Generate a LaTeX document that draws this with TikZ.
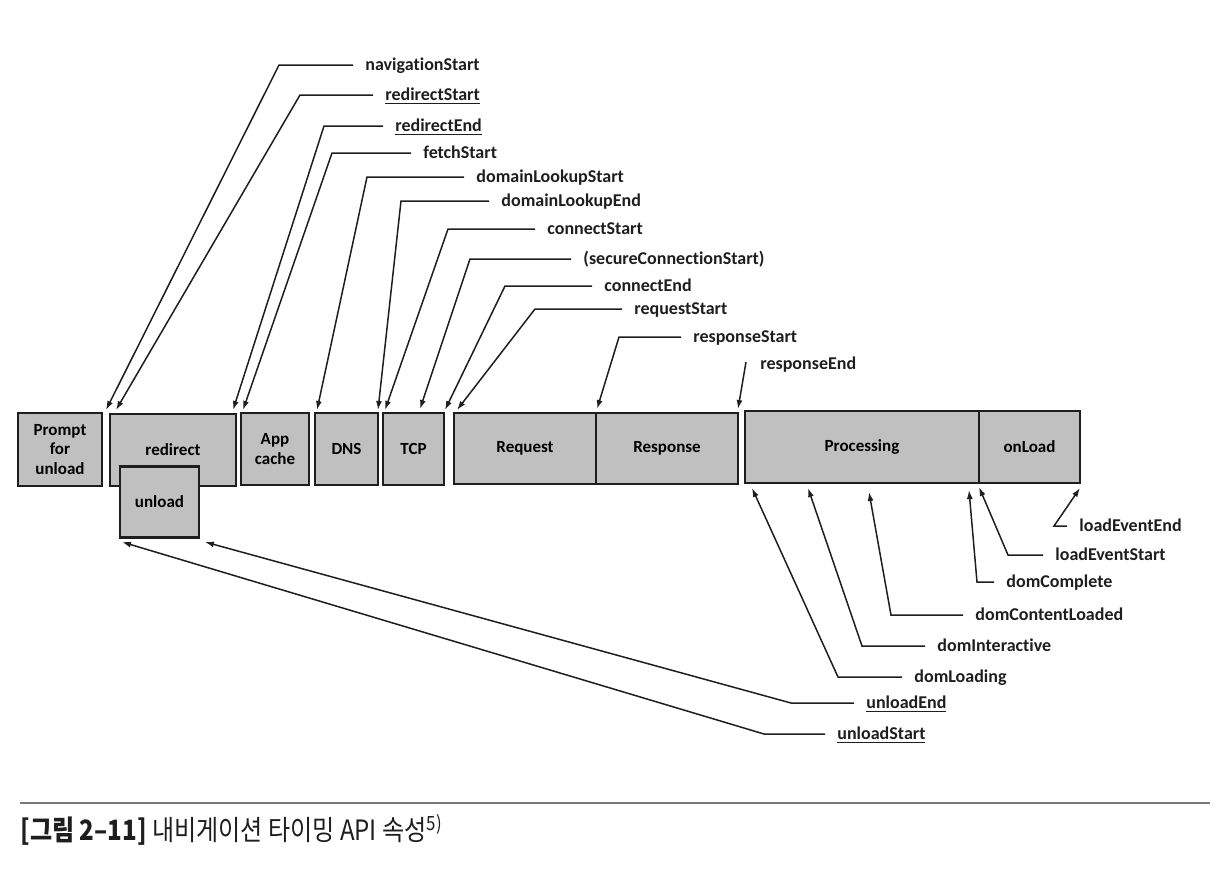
\documentclass[tikz,border=0pt]{standalone}
\usepackage{fontspec}
\setmainfont{Carlito}[Ligatures=NoCommon]
\newfontfamily\korfont[FakeStretch=0.86]{Noto Sans CJK KR}
\usetikzlibrary{arrows.meta}
\definecolor{boxgray}{RGB}{192,192,192}
\definecolor{inkgray}{RGB}{30,30,30}
\definecolor{rulegray}{RGB}{120,120,120}

\begin{document}
\begin{tikzpicture}[x=0.5pt,y=-0.5pt,
    stage/.style={draw=inkgray,line width=1.1pt,fill=boxgray,
        inner sep=0pt,outer sep=0pt,align=center,
        font=\fontsize{8.5}{9.8}\selectfont\bfseries},
    lbl/.style={anchor=west,inner sep=0pt,text=inkgray,
        text height=1.5ex,text depth=0.4ex,
        font=\fontsize{9}{10}\selectfont\bfseries},
    conn/.style={draw=inkgray,line width=0.75pt,
        -{Latex[length=4.5pt,width=3pt]}}]
\useasboundingbox (0,0) rectangle (1222,874);

% timeline stages
\node[stage,minimum width=42pt,minimum height=36.5pt] (prompt) at (60,449.5) {Prompt\\for\\unload};
\node[stage,minimum width=63pt,minimum height=36pt] (redirect) at (173,450) {redirect};
\node[stage,minimum width=39.5pt,minimum height=35.5pt] (unload) at (159.5,502) {unload};
\node[stage,minimum width=34pt,minimum height=36pt] (appcache) at (275,449) {App\\cache};
\node[stage,minimum width=31.5pt,minimum height=36pt] (dns) at (346.5,449) {DNS};
\node[stage,minimum width=30.5pt,minimum height=36pt] (tcp) at (413.5,449) {TCP};
\node[stage,minimum width=71pt,minimum height=35.5pt] (request) at (525,448.5) {Request};
\node[stage,minimum width=71pt,minimum height=35.5pt] (response) at (667,448.5) {Response};
\node[stage,minimum width=117pt,minimum height=36pt] (processing) at (862,447) {Processing};
\node[stage,minimum width=50.5pt,minimum height=36pt] (onload) at (1029.5,447) {onLoad};

% arrow tips on the stages
\coordinate (tNav) at (106,410);
\coordinate (tRedirStart) at (116,410);
\coordinate (tRedirEnd) at (233,410);
\coordinate (tFetch) at (243,410);
\coordinate (tDnsStart) at (317,410);
\coordinate (tDnsEnd) at (378,410);
\coordinate (tConnStart) at (385,410);
\coordinate (tSecure) at (420,409);
\coordinate (tConnEnd) at (445,410);
\coordinate (tReqStart) at (457,410);
\coordinate (tRespStart) at (597,409);
\coordinate (tRespEnd) at (738,409);
\coordinate (tDomLoading) at (752,488);
\coordinate (tDomInter) at (808,488);
\coordinate (tDomContent) at (869,492);
\coordinate (tDomComplete) at (969,490);
\coordinate (tLoadStart) at (979,487);
\coordinate (tLoadEnd) at (1080,488);
\coordinate (tUnloadEnd) at (205,542);
\coordinate (tUnloadStart) at (122,542);

% attribute labels
\node[lbl] (navStart) at (365,65) {navigationStart};
\node[lbl] (redirStart) at (385,95) {\underline{redirectStart}};
\node[lbl] (redirEnd) at (395,126) {\underline{redirectEnd}};
\node[lbl] (fetchStart) at (423,153) {fetchStart};
\node[lbl] (dnsStart) at (476,177) {domainLookupStart};
\node[lbl] (dnsEnd) at (501,201) {domainLookupEnd};
\node[lbl] (connStart) at (547,229) {connectStart};
\node[lbl] (secStart) at (583,259) {(secureConnectionStart)};
\node[lbl] (connEnd) at (604,286) {connectEnd};
\node[lbl] (reqStart) at (634,309) {requestStart};
\node[lbl] (respStart) at (693,337) {responseStart};
\node[lbl] (respEnd) at (760,364) {responseEnd};
\node[lbl] (loadEnd) at (1079,526) {loadEventEnd};
\node[lbl] (loadStart) at (1055,555) {loadEventStart};
\node[lbl] (domComplete) at (1006,582) {domComplete};
\node[lbl] (domContent) at (975,615) {domContentLoaded};
\node[lbl] (domInter) at (937,646) {domInteractive};
\node[lbl] (domLoading) at (914,677) {domLoading};
\node[lbl] (unloadEnd) at (866,703) {\underline{unloadEnd}};
\node[lbl] (unloadStart) at (837,734) {\underline{unloadStart}};

% connectors: label -> short run left -> stage
\foreach \nm/\run/\tip in {navStart/74/tNav,redirStart/73/tRedirStart,
    redirEnd/59/tRedirEnd,fetchStart/79/tFetch,dnsStart/97/tDnsStart,
    dnsEnd/88/tDnsEnd,connStart/87/tConnStart,secStart/101/tSecure,
    connEnd/87/tConnEnd,reqStart/87/tReqStart,respStart/62/tRespStart,
    loadEnd/13/tLoadEnd,loadStart/35/tLoadStart,domComplete/17/tDomComplete,
    domContent/72/tDomContent,domInter/63/tDomInter,domLoading/64/tDomLoading,
    unloadEnd/63/tUnloadEnd,unloadStart/61/tUnloadStart}
    {\draw[conn] ([xshift=-6pt]\nm.west) -- ++(-\run,0) -- (\tip);}
\draw[conn] ([shift={(-7pt,1pt)}]respEnd.west) -- (tRespEnd);

% caption
\draw[rulegray,line width=0.8pt] (20,803) -- (1210,803);
\node[anchor=west,inner sep=0pt,text=inkgray] (caption) at (20,830)
    {\korfont\fontsize{14}{16}\selectfont\textbf{[그림 2–11]} 내비게이션 타이밍 API 속성\textsuperscript{5)}};
\end{tikzpicture}
\end{document}
